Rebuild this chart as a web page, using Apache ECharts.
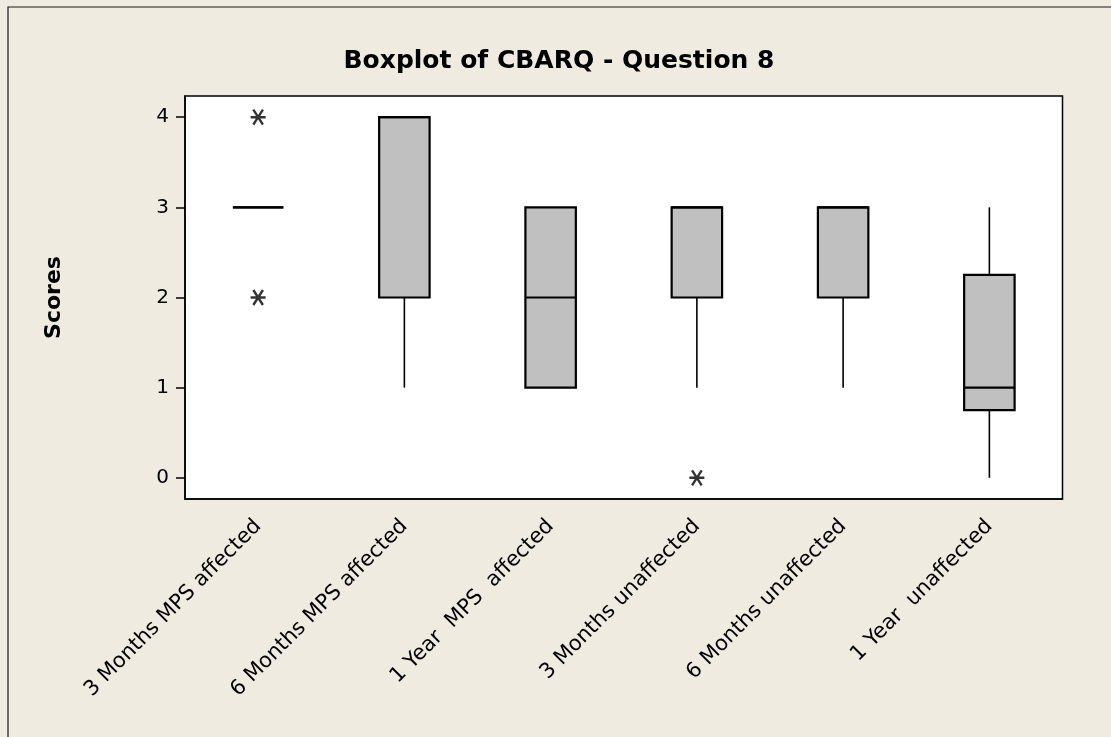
<!DOCTYPE html>
<html>
<head>
<meta charset="utf-8">
<script src="https://cdn.jsdelivr.net/npm/echarts@6/dist/echarts.min.js"></script>
<style>
  html, body { margin: 0; padding: 0; background: #EFEBE1; }
  #chart { width: 1111px; height: 737px; }
</style>
</head>
<body>
<div id="chart"></div>
<script>
// Groups along the x axis
const categories = [
  '3 Months MPS affected',
  '6 Months MPS affected',
  '1 Year  MPS  affected',
  '3 Months unaffected',
  '6 Months unaffected',
  '1 Year  unaffected'
];
// Five-number summaries per group: whisker low, Q1, median, Q3, whisker high
const whiskerLow  = [3, 1, 1, 1, 1, 0];
const q1          = [3, 2, 1, 2, 2, 0.75];
const median      = [3, 4, 2, 3, 3, 1];
const q3          = [3, 4, 3, 3, 3, 2.25];
const whiskerHigh = [3, 4, 3, 3, 3, 3];
// Outliers as [group index, score]
const outliers = [[0, 4], [0, 2], [3, 0]];
// Y axis tick values
const yTicks = [0, 1, 2, 3, 4];

const boxData = categories.map((c, i) => [i, whiskerLow[i], q1[i], median[i], q3[i], whiskerHigh[i]]);

const chart = echarts.init(document.getElementById('chart'), null, { renderer: 'canvas' });

function renderBox(params, api) {
  const i = api.value(0);
  const x = api.coord([i, 0])[0];
  const halfW = api.size([1, 0])[0] * 0.345 / 2;
  const yLo = api.coord([i, api.value(1)])[1];
  const yQ1 = api.coord([i, api.value(2)])[1];
  const yMed = api.coord([i, api.value(3)])[1];
  const yQ3 = api.coord([i, api.value(4)])[1];
  const yHi = api.coord([i, api.value(5)])[1];
  const lineStyle = { stroke: '#000', lineWidth: 1.6 };
  return {
    type: 'group',
    children: [
      { type: 'line', shape: { x1: x, y1: yQ1, x2: x, y2: yLo }, style: lineStyle },
      { type: 'line', shape: { x1: x, y1: yQ3, x2: x, y2: yHi }, style: lineStyle },
      { type: 'rect', shape: { x: x - halfW, y: yQ3, width: halfW * 2, height: yQ1 - yQ3 },
        style: { fill: '#C0C0C0', stroke: '#000', lineWidth: 2.2 } },
      { type: 'line', shape: { x1: x - halfW, y1: yMed, x2: x + halfW, y2: yMed },
        style: { stroke: '#000', lineWidth: 2.2 } }
    ]
  };
}

const option = {
  backgroundColor: '#EFEBE1',
  animation: false,
  textStyle: { fontFamily: 'DejaVu Sans', color: '#000' },
  graphic: [
    { type: 'rect', silent: true, z: -1,
      shape: { x: 8, y: 7, width: 1300, height: 1300 },
      style: { fill: 'none', stroke: '#1a1a1a', lineWidth: 1.2 } },
    { type: 'text', x: 559, y: 61,
      style: { text: 'Boxplot of CBARQ - Question 8', fontFamily: 'DejaVu Sans', fontWeight: 'bold',
               fontSize: 25, fill: '#000', align: 'center', verticalAlign: 'middle' } }
  ],
  grid: {
    left: 185, top: 96, right: 48.5, bottom: 238,
    show: true, backgroundColor: '#fff', borderColor: '#000', borderWidth: 1.5
  },
  xAxis: {
    type: 'category',
    data: categories,
    boundaryGap: true,
    axisLine: { onZero: false, lineStyle: { color: '#000', width: 1.5 } },
    axisTick: { alignWithLabel: true, length: 8, lineStyle: { color: '#000', width: 1.5 } },
    axisLabel: { rotate: 45, interval: 0, margin: 24, fontSize: 21, color: '#000', fontFamily: 'DejaVu Sans' },
    splitLine: { show: false }
  },
  yAxis: {
    type: 'value',
    min: -0.235,
    max: 4.235,
    name: 'Scores',
    nameLocation: 'middle',
    nameRotate: 90,
    nameGap: 120,
    nameTextStyle: { fontSize: 22, fontWeight: 'bold', color: '#000', fontFamily: 'DejaVu Sans' },
    axisLine: { show: true, lineStyle: { color: '#000', width: 1.5 } },
    axisTick: { show: true, length: 9, customValues: yTicks, lineStyle: { color: '#000', width: 1.5 } },
    axisLabel: { customValues: yTicks, margin: 16, fontSize: 20, color: '#000', fontFamily: 'DejaVu Sans' },
    splitLine: { show: false }
  },
  series: [
    {
      type: 'custom',
      renderItem: renderBox,
      encode: { x: 0, y: [1, 2, 3, 4, 5] },
      data: boxData,
      z: 2
    },
    {
      type: 'scatter',
      data: outliers,
      symbol: 'path://M0,5L10,5M1.8,1.0L8.2,9.0M1.8,9.0L8.2,1.0',
      symbolSize: 15,
      itemStyle: { color: 'rgba(0,0,0,0)', borderColor: '#000', borderWidth: 2.4 },
      z: 3
    }
  ]
};

chart.setOption(option);
</script>
</body>
</html>
